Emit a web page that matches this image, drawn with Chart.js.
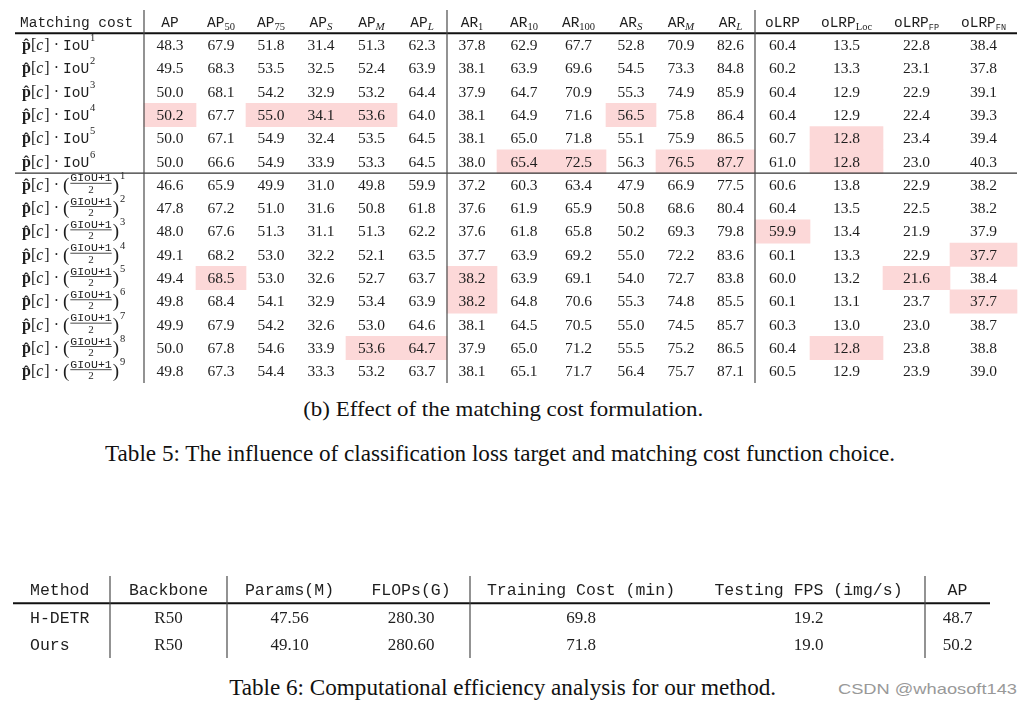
<!DOCTYPE html>
<html>
<head>
<meta charset="utf-8">
<script src="https://cdn.jsdelivr.net/npm/chart.js@4.4.0/dist/chart.umd.min.js"></script>
<style>
  body { margin: 0; background: #fff; }
  #page { position: relative; width: 1032px; height: 703px; overflow: hidden; background: #fff; }
  .box { position: absolute; left: 0; width: 1032px; }
  .cap { position: absolute; white-space: nowrap; font-family: "Liberation Serif", "Times New Roman", serif; color: #111; line-height: 1; transform-origin: 50% 50%; }
</style>
</head>
<body>
<div id="page">
  <div class="box" style="top:10px;height:373px"><canvas id="chart5"></canvas></div>
  <div class="box" style="top:576px;height:82px"><canvas id="chart6"></canvas></div>
  <div class="cap" data-cx="503" data-cy="409" data-w="400" style="font-size:21px">(b) Effect of the matching cost formulation.</div>
  <div class="cap" data-cx="500" data-cy="454" data-w="790" style="font-size:23.5px">Table 5: The influence of classification loss target and matching cost function choice.</div>
  <div class="cap" data-cx="503" data-cy="688" data-w="547" style="font-size:23.5px">Table 6: Computational efficiency analysis for our method.</div>
  <div class="cap" data-cx="927" data-cy="688" data-w="179" style="font-size:15px;font-family:'Liberation Sans',sans-serif;color:#999">CSDN @whaosoft143</div>
</div>
<script>
  // tabela 5(b)
  var metricas5 = ['AP', 'AP_50', 'AP_75', 'AP_S', 'AP_M', 'AP_L',
    'AR_1', 'AR_10', 'AR_100', 'AR_S', 'AR_M', 'AR_L',
    'oLRP', 'oLRP_Loc', 'oLRP_FP', 'oLRP_FN'];

  var custoTipo = ['IoU', 'IoU', 'IoU', 'IoU', 'IoU', 'IoU',
    'GIoU', 'GIoU', 'GIoU', 'GIoU', 'GIoU', 'GIoU', 'GIoU', 'GIoU', 'GIoU'];
  var custoPot = [1, 2, 3, 4, 5, 6, 1, 2, 3, 4, 5, 6, 7, 8, 9];

  var linhasIoU = [
    [48.3, 67.9, 51.8, 31.4, 51.3, 62.3, 37.8, 62.9, 67.7, 52.8, 70.9, 82.6, 60.4, 13.5, 22.8, 38.4],
    [49.5, 68.3, 53.5, 32.5, 52.4, 63.9, 38.1, 63.9, 69.6, 54.5, 73.3, 84.8, 60.2, 13.3, 23.1, 37.8],
    [50.0, 68.1, 54.2, 32.9, 53.2, 64.4, 37.9, 64.7, 70.9, 55.3, 74.9, 85.9, 60.4, 12.9, 22.9, 39.1],
    [50.2, 67.7, 55.0, 34.1, 53.6, 64.0, 38.1, 64.9, 71.6, 56.5, 75.8, 86.4, 60.4, 12.9, 22.4, 39.3],
    [50.0, 67.1, 54.9, 32.4, 53.5, 64.5, 38.1, 65.0, 71.8, 55.1, 75.9, 86.5, 60.7, 12.8, 23.4, 39.4],
    [50.0, 66.6, 54.9, 33.9, 53.3, 64.5, 38.0, 65.4, 72.5, 56.3, 76.5, 87.7, 61.0, 12.8, 23.0, 40.3]
  ];
  var linhasGIoU = [
    [46.6, 65.9, 49.9, 31.0, 49.8, 59.9, 37.2, 60.3, 63.4, 47.9, 66.9, 77.5, 60.6, 13.8, 22.9, 38.2],
    [47.8, 67.2, 51.0, 31.6, 50.8, 61.8, 37.6, 61.9, 65.9, 50.8, 68.6, 80.4, 60.4, 13.5, 22.5, 38.2],
    [48.0, 67.6, 51.3, 31.1, 51.3, 62.2, 37.6, 61.8, 65.8, 50.2, 69.3, 79.8, 59.9, 13.4, 21.9, 37.9],
    [49.1, 68.2, 53.0, 32.2, 52.1, 63.5, 37.7, 63.9, 69.2, 55.0, 72.2, 83.6, 60.1, 13.3, 22.9, 37.7],
    [49.4, 68.5, 53.0, 32.6, 52.7, 63.7, 38.2, 63.9, 69.1, 54.0, 72.7, 83.8, 60.0, 13.2, 21.6, 38.4],
    [49.8, 68.4, 54.1, 32.9, 53.4, 63.9, 38.2, 64.8, 70.6, 55.3, 74.8, 85.5, 60.1, 13.1, 23.7, 37.7],
    [49.9, 67.9, 54.2, 32.6, 53.0, 64.6, 38.1, 64.5, 70.5, 55.0, 74.5, 85.7, 60.3, 13.0, 23.0, 38.7],
    [50.0, 67.8, 54.6, 33.9, 53.6, 64.7, 37.9, 65.0, 71.2, 55.5, 75.2, 86.5, 60.4, 12.8, 23.8, 38.8],
    [49.8, 67.3, 54.4, 33.3, 53.2, 63.7, 38.1, 65.1, 71.7, 56.4, 75.7, 87.1, 60.5, 12.9, 23.9, 39.0]
  ];

  // celulas destacadas: [linha, coluna]
  var destaques5 = [[3, 0], [3, 2], [3, 3], [3, 4], [3, 9], [4, 13],
    [5, 7], [5, 8], [5, 10], [5, 11], [5, 13],
    [8, 12], [9, 15], [10, 1], [10, 6], [10, 14], [11, 6], [11, 15],
    [13, 4], [13, 5], [13, 13]];

  // tabela 6
  var colunas6 = ['Method', 'Backbone', 'Params(M)', 'FLOPs(G)', 'Training Cost (min)', 'Testing FPS (img/s)', 'AP'];
  var metodos6 = ['H-DETR', 'Ours'];
  var backbone6 = ['R50', 'R50'];
  var params6 = [47.56, 49.10];
  var flops6 = [280.30, 280.60];
  var treino6 = [69.8, 71.8];
  var fps6 = [19.2, 19.0];
  var ap6 = [48.7, 50.2];

  // layout (pixels da pagina)
  var bordas5 = [15, 144, 196, 246, 296, 346, 397, 447, 497, 551, 606, 656, 706, 755, 810, 883, 950, 1017];
  var bordas6 = [13, 110, 227, 352, 470, 692, 925, 990];
  var serif = '"Liberation Serif", "Times New Roman", serif';
  var mono = '"Liberation Mono", "DejaVu Sans Mono", monospace';
  var corTexto = '#1e1e1e';

  var valores5 = linhasIoU.concat(linhasGIoU);
  var linhas5 = ['Matching cost'].concat(custoTipo.map(function (t, i) { return t + '^' + custoPot[i]; }));

  function texto(ctx, t, fonte, x, y) {
    ctx.font = fonte;
    ctx.fillText(t, x, y);
    return x + ctx.measureText(t).width;
  }

  function cabecalho(ctx, nome, cx, base) {
    var partes = nome.split('_');
    var pecas = [{ t: partes[0], f: '14.5px ' + mono, dy: 0 }];
    if (partes[1]) {
      var s = partes[1], f;
      if (s === 'S' || s === 'M' || s === 'L') f = 'italic 11px ' + serif;
      else if (s === 'FP' || s === 'FN') f = '8.5px ' + mono;
      else f = '10.5px ' + serif;
      pecas.push({ t: s, f: f, dy: 3 });
    }
    var w = 0;
    pecas.forEach(function (p) { ctx.font = p.f; p.w = ctx.measureText(p.t).width; w += p.w; });
    var x = cx - w / 2;
    ctx.textAlign = 'left';
    pecas.forEach(function (p) { ctx.font = p.f; ctx.fillText(p.t, x, base + p.dy); x += p.w; });
  }

  function rotuloLinha(ctx, tipo, pot, x0, yc) {
    var base = yc + 5;
    ctx.textAlign = 'left';
    var x = texto(ctx, 'p\u0302', 'bold 16px ' + serif, x0, base);
    x = texto(ctx, '[', '16px ' + serif, x, base);
    x = texto(ctx, 'c', 'italic 16px ' + serif, x, base);
    x = texto(ctx, ']', '16px ' + serif, x + 1, base);
    x = texto(ctx, ' \u00b7 ', '16px ' + serif, x, base);
    if (tipo === 'IoU') {
      x = texto(ctx, 'IoU', '14.5px ' + mono, x, base);
      texto(ctx, String(pot), '10.5px ' + serif, x + 1, base - 9);
    } else {
      x = texto(ctx, '(', '19px ' + serif, x, base + 1);
      ctx.font = '11.5px ' + mono;
      var wn = ctx.measureText('GIoU+1').width;
      var xf = x + 1;
      ctx.textAlign = 'center';
      ctx.fillText('GIoU+1', xf + wn / 2, yc - 3.5);
      ctx.font = '11px ' + serif;
      ctx.fillText('2', xf + wn / 2, yc + 8);
      ctx.fillRect(xf, yc - 2, wn, 0.8);
      ctx.textAlign = 'left';
      x = texto(ctx, ')', '19px ' + serif, xf + wn + 1, base + 1);
      texto(ctx, String(pot), '10.5px ' + serif, x + 1, base - 11);
    }
  }

  function linhaH(ctx, x0, x1, y, lw, cor) {
    ctx.beginPath();
    ctx.lineWidth = lw;
    ctx.strokeStyle = cor;
    ctx.moveTo(x0, y);
    ctx.lineTo(x1, y);
    ctx.stroke();
  }

  function linhaV(ctx, x, y0, y1) {
    ctx.beginPath();
    ctx.lineWidth = 1.2;
    ctx.strokeStyle = '#4a4a4a';
    ctx.moveTo(x, y0);
    ctx.lineTo(x, y1);
    ctx.stroke();
  }

  var tabela5Plugin = {
    id: 'tabela5',
    afterDatasetsDraw: function (chart) {
      var ctx = chart.ctx, sx = chart.scales.x, sy = chart.scales.y, area = chart.chartArea;
      ctx.save();
      ctx.fillStyle = corTexto;
      ctx.textBaseline = 'alphabetic';

      var yh = sy.getPixelForValue(0) + 5;
      ctx.textAlign = 'left';
      ctx.font = '14.5px ' + mono;
      ctx.fillText(linhas5[0], sx.getPixelForValue(20), yh);
      for (var c = 0; c < metricas5.length; c++) {
        cabecalho(ctx, metricas5[c], sx.getPixelForValue((bordas5[c + 1] + bordas5[c + 2]) / 2), yh);
      }

      for (var r = 0; r < valores5.length; r++) {
        var yc = sy.getPixelForValue(r + 1);
        rotuloLinha(ctx, custoTipo[r], custoPot[r], sx.getPixelForValue(22), yc);
        ctx.font = '15.5px ' + serif;
        ctx.textAlign = 'center';
        for (var k = 0; k < valores5[r].length; k++) {
          var cx = sx.getPixelForValue((bordas5[k + 1] + bordas5[k + 2]) / 2);
          ctx.fillText(valores5[r][k].toFixed(1), cx, yc + 5);
        }
      }

      var xa = sx.getPixelForValue(bordas5[0]), xb = sx.getPixelForValue(bordas5[bordas5.length - 1]);
      linhaH(ctx, xa, xb, sy.getPixelForValue(0.5), 2, '#111');
      linhaH(ctx, xa, xb, sy.getPixelForValue(6.5), 1.3, '#333');
      [1, 7, 13].forEach(function (i) {
        linhaV(ctx, sx.getPixelForValue(bordas5[i]), area.top, area.bottom);
      });
      ctx.restore();
    }
  };

  var tabela6Plugin = {
    id: 'tabela6',
    afterDatasetsDraw: function (chart) {
      var ctx = chart.ctx, sx = chart.scales.x, sy = chart.scales.y, area = chart.chartArea;
      ctx.save();
      ctx.fillStyle = corTexto;
      ctx.textBaseline = 'alphabetic';

      function centro(i) { return sx.getPixelForValue((bordas6[i] + bordas6[i + 1]) / 2); }

      var yh = sy.getPixelForValue(0) + 5;
      ctx.font = '16.5px ' + mono;
      ctx.textAlign = 'left';
      ctx.fillText(colunas6[0], sx.getPixelForValue(30), yh);
      ctx.textAlign = 'center';
      for (var c = 1; c < colunas6.length; c++) {
        ctx.fillText(colunas6[c], centro(c), yh);
      }

      for (var r = 0; r < metodos6.length; r++) {
        var yb = sy.getPixelForValue(r + 1) + 5.5;
        ctx.font = '16.5px ' + mono;
        ctx.textAlign = 'left';
        ctx.fillText(metodos6[r], sx.getPixelForValue(30), yb);
        ctx.font = '17px ' + serif;
        ctx.textAlign = 'center';
        ctx.fillText(backbone6[r], centro(1), yb);
        ctx.fillText(params6[r].toFixed(2), centro(2), yb);
        ctx.fillText(flops6[r].toFixed(2), centro(3), yb);
        ctx.fillText(treino6[r].toFixed(1), centro(4), yb);
        ctx.fillText(fps6[r].toFixed(1), centro(5), yb);
        ctx.fillText(ap6[r].toFixed(1), centro(6), yb);
      }

      linhaH(ctx, sx.getPixelForValue(bordas6[0]), sx.getPixelForValue(bordas6[bordas6.length - 1]),
        sy.getPixelForValue(0.5), 2, '#111');
      [1, 2, 4, 6].forEach(function (i) {
        linhaV(ctx, sx.getPixelForValue(bordas6[i]), area.top, area.bottom);
      });
      ctx.restore();
    }
  };

  var opcoesBase = function () {
    return {
      indexAxis: 'y',
      responsive: true,
      maintainAspectRatio: false,
      animation: false,
      events: [],
      layout: { padding: 0 },
      plugins: { legend: { display: false }, tooltip: { enabled: false } },
      scales: {
        x: { type: 'linear', min: 0, max: 1032, display: false },
        y: { type: 'category', display: false, offset: true }
      }
    };
  };

  new Chart(document.getElementById('chart5'), {
    type: 'bar',
    data: {
      labels: linhas5,
      datasets: [{
        data: destaques5.map(function (d) {
          return { y: linhas5[d[0] + 1], x: [bordas5[d[1] + 1], bordas5[d[1] + 2]] };
        }),
        backgroundColor: '#fcd8d8',
        borderWidth: 0,
        barPercentage: 1,
        categoryPercentage: 1
      }]
    },
    options: opcoesBase(),
    plugins: [tabela5Plugin]
  });

  new Chart(document.getElementById('chart6'), {
    type: 'bar',
    data: {
      labels: ['header'].concat(metodos6),
      datasets: [{ data: [] }]
    },
    options: opcoesBase(),
    plugins: [tabela6Plugin]
  });

  // legendas em HTML, ajustadas na largura
  document.querySelectorAll('.cap').forEach(function (el) {
    var caixa = el.getBoundingClientRect();
    el.style.left = (Number(el.dataset.cx) - caixa.width / 2) + 'px';
    el.style.top = (Number(el.dataset.cy) - caixa.height / 2) + 'px';
    el.style.transform = 'scaleX(' + (Number(el.dataset.w) / caixa.width) + ')';
  });
</script>
</body>
</html>
